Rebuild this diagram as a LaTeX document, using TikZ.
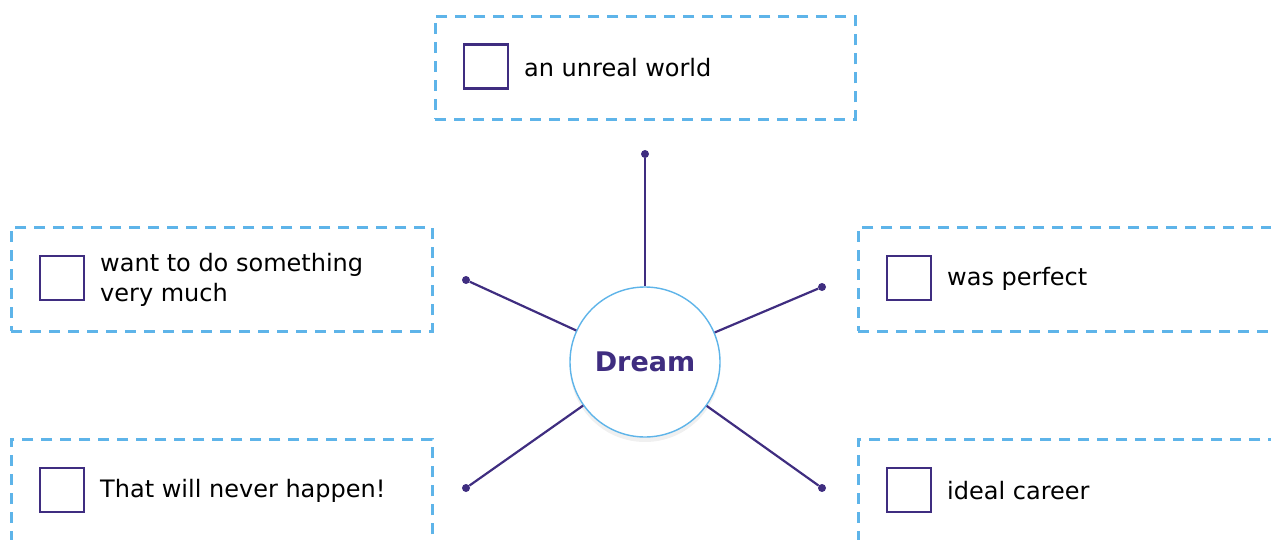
\documentclass[tikz,border=0pt]{standalone}
\usepackage{fontspec}
\setmainfont{DejaVu Sans}
\usetikzlibrary{shadows}
\definecolor{dashblue}{HTML}{5EB4E9}
\definecolor{dreampurple}{HTML}{3F2D80}
\tikzset{
  optionbox/.style={draw=dashblue, line width=2.8pt, dash pattern=on 11pt off 8pt,
    anchor=north west, inner sep=0pt},
  tickbox/.style={draw=dreampurple, line width=2.2pt, minimum size=44pt, inner sep=0pt},
  optiontext/.style={anchor=west, inner sep=0pt, align=left,
    font=\fontsize{24}{30}\selectfont},
  enddot/.style={circle, fill=dreampurple, inner sep=0pt, minimum size=8pt},
  spoke/.style={draw=dreampurple, line width=2.2pt}
}
\begin{document}
\begin{tikzpicture}[x=1pt, y=-1pt]
    \useasboundingbox (0,0) rectangle (1271,540);
    \clip (0,0) rectangle (1271,540);

    % dashed frames
    \node (fN) at (434, 15) [optionbox, minimum width=420pt, minimum height=103pt] {};
    \node (fNW) at (10, 226) [optionbox, minimum width=421pt, minimum height=104pt] {};
    \node (fNE) at (857, 226) [optionbox, minimum width=440pt, minimum height=104pt] {};
    \node (fSW) at (10, 438) [optionbox, minimum width=421pt, minimum height=130pt] {};
    \node (fSE) at (857, 438) [optionbox, minimum width=440pt, minimum height=130pt] {};

    % tick boxes
    \node (bN) at (486, 66.5) [tickbox] {};
    \node (bNW) at (62, 278) [tickbox] {};
    \node (bNE) at (909, 278) [tickbox] {};
    \node (bSW) at (62, 490) [tickbox] {};
    \node (bSE) at (909, 490) [tickbox] {};

    % answers
    \node (tN) at (524, 68) [optiontext] {an unreal world};
    \node (tNW) at (100, 280) [optiontext] {want to do something\\very much};
    \node (tNE) at (947, 279) [optiontext] {was perfect};
    \node (tSW) at (100, 491) [optiontext] {That will never happen!};
    \node (tSE) at (947, 491) [optiontext] {ideal career};

    % centre
    \node (dream) at (645, 362) [circle, draw=dashblue, line width=1.4pt, fill=white,
        minimum size=150pt, text=dreampurple,
        font=\fontsize{27}{32}\selectfont\bfseries,
        drop shadow={shadow xshift=0pt, shadow yshift=-5pt, opacity=0.12}] {Dream};

    \node (dN) at (645, 154) [enddot] {};
    \node (dNW) at (466, 280) [enddot] {};
    \node (dNE) at (822, 287) [enddot] {};
    \node (dSW) at (466, 488) [enddot] {};
    \node (dSE) at (822, 488) [enddot] {};

    \draw[spoke] (dN) -- (dream);
    \draw[spoke] (dNW) -- (dream);
    \draw[spoke] (dNE) -- (dream);
    \draw[spoke] (dSW) -- (dream);
    \draw[spoke] (dSE) -- (dream);
\end{tikzpicture}
\end{document}
